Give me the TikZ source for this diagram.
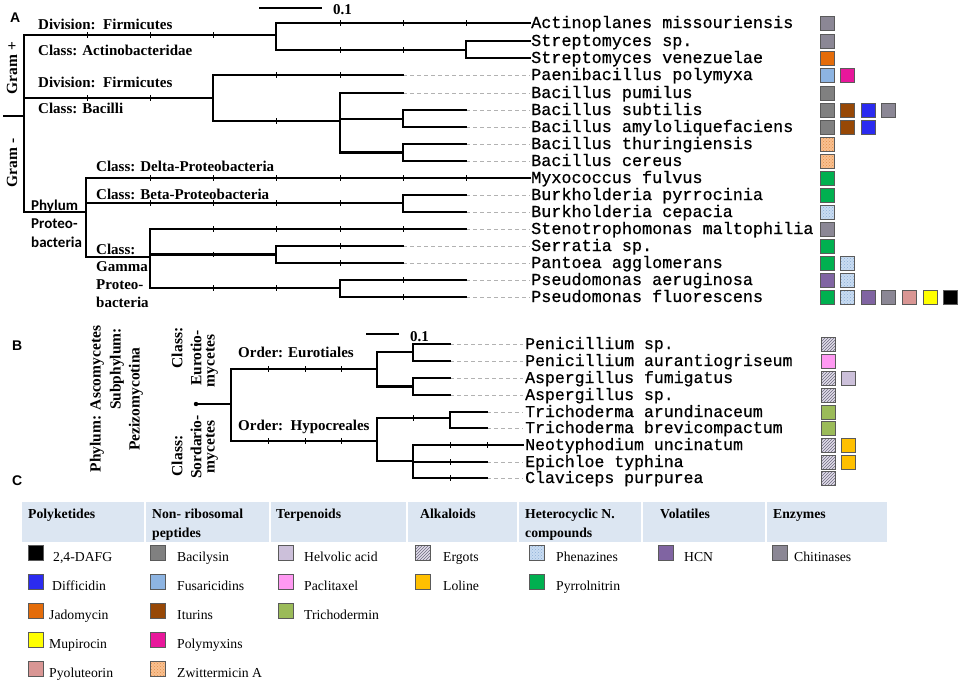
\documentclass[tikz,border=0pt]{standalone}
\usepackage{fontspec}
\setmainfont{Liberation Serif}
\newfontfamily\arialf{Liberation Sans}
\newfontfamily\calf{Carlito}
\newfontfamily\monof[RawFeature={embolden=0.7}]{Liberation Mono}
\usetikzlibrary{patterns}
\definecolor{cdafg}{HTML}{000000}
\definecolor{cdiff}{HTML}{2B2BF0}
\definecolor{cjado}{HTML}{E46C0A}
\definecolor{cmupi}{HTML}{FFFF00}
\definecolor{cpyol}{HTML}{D99694}
\definecolor{cbaci}{HTML}{808080}
\definecolor{cfusa}{HTML}{8DB4E2}
\definecolor{citur}{HTML}{974806}
\definecolor{cpoly}{HTML}{E8179B}
\definecolor{czwit}{HTML}{FAC090}
\definecolor{czwitd}{HTML}{E0904A}
\definecolor{chelv}{HTML}{CCC0DA}
\definecolor{cpacl}{HTML}{FF99F2}
\definecolor{ctric}{HTML}{9BBB59}
\definecolor{cergo}{HTML}{E2DEEA}
\definecolor{cergol}{HTML}{6E6A80}
\definecolor{cloli}{HTML}{FFC000}
\definecolor{cphen}{HTML}{C9DCF2}
\definecolor{cphend}{HTML}{8EAFD6}
\definecolor{cpyrr}{HTML}{00B050}
\definecolor{chcn}{HTML}{8064A2}
\definecolor{cchit}{HTML}{8B8795}
\definecolor{chdr}{HTML}{DCE6F2}
\definecolor{cbord}{HTML}{5A5A5A}
\tikzset{
  br/.style={line width=2.8pt, line join=miter, line cap=rect},
  tk/.style={line width=1pt},
  lead/.style={draw=black!30, line width=0.7pt, dash pattern=on 4pt off 3pt},
  leaf/.style={font=\monof\fontsize{16.8}{18}\selectfont, anchor=base west, inner sep=0pt},
  leafb/.style={font=\monof\fontsize{16.5}{18}\selectfont, anchor=base west, inner sep=0pt},
  lab/.style={font=\fontsize{15}{18}\selectfont\bfseries, anchor=base west, inner sep=0pt},
  slab/.style={font=\calf\fontsize{15}{18}\selectfont\bfseries, anchor=base west, inner sep=0pt},
  rlab/.style={font=\fontsize{15.5}{18}\selectfont\bfseries, rotate=90, inner sep=0pt},
  pan/.style={font=\arialf\fontsize{14}{16}\selectfont\bfseries, anchor=base west, inner sep=0pt},
  hd/.style={font=\fontsize{13.7}{16}\selectfont\bfseries, anchor=base west, inner sep=0pt},
  lg/.style={font=\fontsize{13.7}{16}\selectfont, anchor=base west, inner sep=0pt},
  sq/.style={draw=cbord, line width=0.8pt, minimum size=14pt, inner sep=0pt},
  dafg/.style={sq, fill=cdafg},
  diff/.style={sq, fill=cdiff},
  jado/.style={sq, fill=cjado},
  mupi/.style={sq, fill=cmupi},
  pyol/.style={sq, fill=cpyol},
  baci/.style={sq, fill=cbaci},
  fusa/.style={sq, fill=cfusa},
  itur/.style={sq, fill=citur},
  poly/.style={sq, fill=cpoly},
  zwit/.style={sq, preaction={fill=czwit}, pattern=crosshatch dots, pattern color=czwitd},
  helv/.style={sq, fill=chelv},
  pacl/.style={sq, fill=cpacl},
  tric/.style={sq, fill=ctric},
  ergo/.style={sq, preaction={fill=cergo}, pattern=north east lines, pattern color=cergol},
  loli/.style={sq, fill=cloli},
  phen/.style={sq, preaction={fill=cphen}, pattern=crosshatch dots, pattern color=cphend},
  pyrr/.style={sq, fill=cpyrr},
  hcn/.style={sq, fill=chcn},
  chit/.style={sq, fill=cchit},
}
\begin{document}
\begin{tikzpicture}[x=1pt,y=-1pt]
\useasboundingbox (0,0) rectangle (964,683);

% ---------------- Panel A ----------------
\node[pan] (pA) at (10,22) {A};
\coordinate (sa1) at (259,8); \coordinate (sa2) at (322,8);
\draw[line width=2.2pt] (sa1) -- (sa2);
\node[lab] (sA) at (333,14) {0.1};

% leaves
\foreach \i/\y/\e/\nm in {
 0/23/530/Actinoplanes missouriensis,
 1/41/530/Streptomyces sp.,
 2/58/530/Streptomyces venezuelae,
 3/75/403/Paenibacillus polymyxa,
 4/93/403/Bacillus pumilus,
 5/110/466/Bacillus subtilis,
 6/127/466/Bacillus amyloliquefaciens,
 7/144/466/Bacillus thuringiensis,
 8/161/466/Bacillus cereus,
 9/178/530/Myxococcus fulvus,
 10/195/466/Burkholderia pyrrocinia,
 11/212/466/Burkholderia cepacia,
 12/229/466/Stenotrophomonas maltophilia,
 13/246/403/Serratia sp.,
 14/263/403/Pantoea agglomerans,
 15/280/466/Pseudomonas aeruginosa,
 16/297/466/Pseudomonas fluorescens}{
  \node[leaf] (L\i) at (531,\y+5) {\nm};
  \coordinate (E\i) at (\e,\y);
  \coordinate (T\i) at (530,\y);
  \draw[lead] (E\i) -- (T\i);
}

% internal nodes
\coordinate (r0) at (4,116);
\coordinate (R) at (24,116);
\coordinate (Ac) at (276,35);
\coordinate (St) at (466,50);
\coordinate (Ba) at (213,98);
\coordinate (Bb) at (340,121);
\coordinate (Bs) at (403,119);
\coordinate (Bt) at (403,152.5);
\coordinate (P) at (86,212);
\coordinate (Be) at (403,203);
\coordinate (Ga) at (150,257);
\coordinate (Se) at (276,254.5);
\coordinate (Ps) at (340,288);

\draw[br] (r0) -- (R);
\draw[br] (R) |- (Ac);
\draw[br] (R) |- (Ba);
\draw[br] (R) |- (P);
\draw[br] (Ac) |- (E0);
\draw[br] (Ac) |- (St);
\draw[br] (St) |- (E1);
\draw[br] (St) |- (E2);
\draw[br] (Ba) |- (E3);
\draw[br] (Ba) |- (Bb);
\draw[br] (Bb) |- (E4);
\draw[br] (Bb) |- (Bs);
\draw[br] (Bb) |- (Bt);
\draw[br] (Bs) |- (E5);
\draw[br] (Bs) |- (E6);
\draw[br] (Bt) |- (E7);
\draw[br] (Bt) |- (E8);
\draw[br] (P) |- (E9);
\draw[br] (P) |- (Be);
\draw[br] (P) |- (Ga);
\draw[br] (Be) |- (E10);
\draw[br] (Be) |- (E11);
\draw[br] (Ga) |- (E12);
\draw[br] (Ga) |- (Se);
\draw[br] (Ga) |- (Ps);
\draw[br] (Se) |- (E13);
\draw[br] (Se) |- (E14);
\draw[br] (Ps) |- (E15);
\draw[br] (Ps) |- (E16);

% ticks
\foreach \x/\y in {87/35,150/35,213/35, 87/98,150/98,
  340/23,403/23,466/23, 340/50,403/50, 276/75,340/75, 276/121,
  150/178,213/178,276/178,340/178,403/178,466/178,
  150/203,213/203,276/203,340/203,
  213/229,276/229,340/229,403/229, 213/254.5, 340/246,340/263,
  213/288,276/288, 403/280,403/297}{
  \draw[tk] (\x,\y-2.8) -- (\x,\y+2.8);
}

% labels A
\node[rlab] (g1) at (12,68) {Gram +};
\node[rlab] (g2) at (12,163) {Gram -};
\node[lab] (a1) at (38,29) {Division:\ \ Firmicutes};
\node[lab] (a2) at (38,55) {Class: Actinobacteridae};
\node[lab] (a3) at (38,87) {Division:\ \ Firmicutes};
\node[lab] (a4) at (38,113) {Class: Bacilli};
\node[lab] (a5) at (96,171) {Class: Delta-Proteobacteria};
\node[lab] (a6) at (96,199) {Class: Beta-Proteobacteria};
\node[slab] (a7) at (31,210) {Phylum};
\node[slab] (a8) at (31,228) {Proteo-};
\node[slab] (a9) at (31,247) {bacteria};
\node[lab] (a10) at (96,254) {Class:};
\node[lab] (a11) at (96,271) {Gamma};
\node[lab] (a12) at (96,289) {Proteo-};
\node[lab] (a13) at (96,307) {bacteria};

% squares A
\foreach \r/\y/\c/\s in {
 0/23/0/chit, 1/41/0/chit, 2/58/0/jado, 3/75/0/fusa, 3/75/1/poly,
 4/93/0/baci, 5/110/0/baci, 5/110/1/itur, 5/110/2/diff, 5/110/3/chit,
 6/127/0/baci, 6/127/1/itur, 6/127/2/diff, 7/144/0/zwit, 8/161/0/zwit,
 9/178/0/pyrr, 10/195/0/pyrr, 11/212/0/phen, 12/229/0/chit, 13/246/0/pyrr,
 14/263/0/pyrr, 14/263/1/phen, 15/280/0/hcn, 15/280/1/phen,
 16/297/0/pyrr, 16/297/1/phen, 16/297/2/hcn, 16/297/3/chit, 16/297/4/pyol,
 16/297/5/mupi, 16/297/6/dafg}{
  \node[\s] (SA\r-\c) at ({827+20.6*\c},\y) {};
}

% ---------------- Panel B ----------------
\node[pan] (pB) at (12,350) {B};
\coordinate (sb1) at (366,334); \coordinate (sb2) at (399,334);
\draw[line width=2.2pt] (sb1) -- (sb2);
\node[lab] (sB) at (410,341) {0.1};

\foreach \i/\y/\e/\nm in {
 0/344/450/Penicillium sp.,
 1/361/450/Penicillium aurantiogriseum,
 2/378/450/Aspergillus fumigatus,
 3/395/450/Aspergillus sp.,
 4/412/487/Trichoderma arundinaceum,
 5/428/487/Trichoderma brevicompactum,
 6/445/523/Neotyphodium uncinatum,
 7/462/487/Epichloe typhina,
 8/478/487/Claviceps purpurea}{
  \node[leafb] (M\i) at (525,\y+5) {\nm};
  \coordinate (F\i) at (\e,\y);
  \coordinate (U\i) at (523,\y);
  \draw[lead] (F\i) -- (U\i);
}

\coordinate (D) at (196,404);
\coordinate (BR) at (231,404);
\coordinate (Eu) at (377,369);
\coordinate (Hy) at (377,441);
\coordinate (Pe) at (413,352);
\coordinate (As) at (413,386.5);
\coordinate (Tr) at (450,418);
\coordinate (Cl) at (413,461);

\fill (D) circle (2.2);
\draw[br] (D) -- (BR);
\draw[br] (BR) |- (Eu);
\draw[br] (BR) |- (Hy);
\draw[br] (Eu) |- (Pe);
\draw[br] (Eu) |- (As);
\draw[br] (Pe) |- (F0);
\draw[br] (Pe) |- (F1);
\draw[br] (As) |- (F2);
\draw[br] (As) |- (F3);
\draw[br] (Hy) |- (Tr);
\draw[br] (Hy) |- (Cl);
\draw[br] (Tr) |- (F4);
\draw[br] (Tr) |- (F5);
\draw[br] (Cl) |- (F6);
\draw[br] (Cl) |- (F7);
\draw[br] (Cl) |- (F8);

\foreach \x/\y in {268/369,305/369,341/369, 268/441,305/441,341/441,
  413/418, 450/445,487/445, 450/462, 450/478}{
  \draw[tk] (\x,\y-2.8) -- (\x,\y+2.8);
}

\node[rlab] (b1) at (97,399) {Phylum: Ascomycetes};
\node[rlab] (b2) at (117,369) {Subphylum:};
\node[rlab] (b3) at (136,399) {Pezizomycotina};
\node[rlab] (b4) at (177,348) {Class:};
\node[rlab] (b5) at (196,358) {Eurotio-};
\node[rlab] (b6) at (212,361) {mycetes};
\node[rlab] (b7) at (177,456) {Class:};
\node[rlab] (b8) at (196,447) {Sordario-};
\node[rlab] (b9) at (212,447) {mycetes};
\node[lab] (b10) at (238,357) {Order: Eurotiales};
\node[lab] (b11) at (238,430) {Order:\ \ Hypocreales};

\foreach \r/\y/\c/\s in {
 0/344/0/ergo, 1/361/0/pacl, 2/378/0/ergo, 2/378/1/helv, 3/395/0/ergo,
 4/412/0/tric, 5/428/0/tric, 6/445/0/ergo, 6/445/1/loli,
 7/462/0/ergo, 7/462/1/loli, 8/478/0/ergo}{
  \node[\s] (SB\r-\c) at ({828+20.6*\c},\y) {};
}

% ---------------- Panel C ----------------
\node[pan] (pC) at (12,485) {C};
\fill[chdr] (22,502) rectangle (887,542);
\foreach \x in {145,270,407,518,642,766}{
  \draw[white, line width=2pt] (\x,502) -- (\x,542);
}
\node[hd] (h1) at (28,518) {Polyketides};
\node[hd] (h2) at (152,518) {Non- ribosomal};
\node[hd] (h2b) at (152,537) {peptides};
\node[hd] (h3) at (276,518) {Terpenoids};
\node[hd] (h4) at (420,518) {Alkaloids};
\node[hd] (h5) at (525,518) {Heterocyclic N.};
\node[hd] (h5b) at (525,537) {compounds};
\node[hd] (h6) at (660,518) {Volatiles};
\node[hd] (h7) at (773,518) {Enzymes};

\foreach \k/\sx/\tx/\b/\s/\t in {
 1/28/53/561/dafg/{2,4-DAFG},
 2/28/52/590/diff/Difficidin,
 3/28/49/619/jado/Jadomycin,
 4/28/49/648/mupi/Mupirocin,
 5/28/49/677/pyol/Pyoluteorin,
 6/150/177/561/baci/Bacilysin,
 7/150/177/590/fusa/Fusaricidins,
 8/150/177/619/itur/Iturins,
 9/150/177/648/poly/Polymyxins,
 10/150/177/677/zwit/Zwittermicin A,
 11/278/304/561/helv/Helvolic acid,
 12/278/304/590/pacl/Paclitaxel,
 13/278/304/619/tric/Trichodermin,
 14/415/443/561/ergo/Ergots,
 15/415/443/590/loli/Loline,
 16/529/556/561/phen/Phenazines,
 17/529/556/590/pyrr/Pyrrolnitrin,
 18/658/684/561/hcn/HCN,
 19/772/794/561/chit/Chitinases}{
  \node[\s, minimum size=15pt] (K\k) at (\sx+7.5,\b-8.5) {};
  \node[lg] (KT\k) at (\tx,\b) {\t};
}
\end{tikzpicture}
\end{document}
